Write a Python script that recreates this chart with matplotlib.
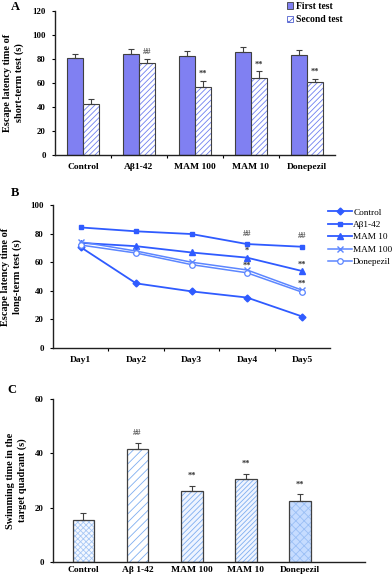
import matplotlib
matplotlib.use("Agg")
import matplotlib.pyplot as plt
import numpy as np
from matplotlib.patches import Patch

plt.rcParams['font.family'] = ['Liberation Serif', 'DejaVu Serif']
plt.rcParams['font.weight'] = 'bold'
plt.rcParams['hatch.linewidth'] = 0.6

# ---------------- data ----------------
groups = ["Control", "Aβ1-42", "MAM 100", "MAM 10", "Donepezil"]
groups_c = ["Control", "Aβ 1-42", "MAM 100", "MAM 10", "Donepezil"]

first_test = [80.8, 84.0, 82.2, 86.0, 83.4]
first_err = [3.6, 4.2, 4.6, 3.8, 3.9]
second_test = [42.3, 77.0, 57.0, 63.8, 60.8]
second_err = [4.2, 3.3, 4.8, 5.8, 2.6]
sig_a = ["", "##", "**", "**", "**"]

days = ["Day1", "Day2", "Day3", "Day4", "Day5"]
b_control = [70.5, 45.2, 39.6, 35.3, 22.0]
b_abeta = [84.3, 81.6, 79.7, 72.7, 70.8]
b_mam10 = [73.5, 71.2, 66.8, 63.2, 53.8]
b_mam100 = [74.2, 67.8, 60.0, 54.6, 40.4]
b_donep = [72.0, 66.4, 58.3, 52.6, 39.0]
sig_b = [(3, 79.5, "##"), (4, 78.0, "##"), (3, 68.0, "*"), (3, 57.5, "**"),
         (4, 58.5, "**"), (4, 45.2, "**")]

c_values = [15.5, 41.5, 26.0, 30.5, 22.6]
c_err = [2.4, 2.2, 1.9, 1.9, 2.3]
sig_c = ["", "##", "**", "**", "**"]

# ---------------- figure ----------------
fig = plt.figure(figsize=(3.92, 5.77), dpi=100)
W, H = 392, 577

def axrect(l, t, r, b):
    return [l / W, 1 - b / H, (r - l) / W, (b - t) / H]

edge = "#404040"
tick_fs = 6.3
lab_fs = 7.4
sig_fs = 6.0

def style(ax):
    for s in ["top", "right"]:
        ax.spines[s].set_visible(False)
    for s in ["left", "bottom"]:
        ax.spines[s].set_linewidth(1.0)
        ax.spines[s].set_color("#202020")
    ax.tick_params(axis="y", direction="out", length=2.5, width=0.8, labelsize=tick_fs, pad=4)
    ax.tick_params(axis="x", direction="out", length=0, labelsize=6.8, pad=6)
    for lbl in ax.get_xticklabels() + ax.get_yticklabels():
        lbl.set_fontweight("bold")

# ---------- Panel A ----------
axA = fig.add_axes(axrect(55, 11, 335, 155))
x = np.arange(len(groups))
bw = 0.29
c1 = "#8080F2"
axA.bar(x - bw / 2, first_test, bw, color=c1, edgecolor=edge, linewidth=0.8, zorder=2)
axA.bar(x + bw / 2, second_test, bw, color="white", edgecolor="#6F7FF0", hatch="//////",
        linewidth=0, zorder=2)
axA.bar(x + bw / 2, second_test, bw, color="none", edgecolor=edge, linewidth=0.8, zorder=3)
axA.errorbar(x - bw / 2, first_test, yerr=[np.zeros(5), first_err], fmt="none",
             ecolor=edge, elinewidth=0.8, capsize=2.5, capthick=0.8, zorder=4)
axA.errorbar(x + bw / 2, second_test, yerr=[np.zeros(5), second_err], fmt="none",
             ecolor=edge, elinewidth=0.8, capsize=2.5, capthick=0.8, zorder=4)
for i, s in enumerate(sig_a):
    if s:
        axA.text(x[i] + bw / 2, second_test[i] + second_err[i] + 2.5, s, ha="center",
                 va="bottom", fontsize=sig_fs, color="#555555" if s == "##" else "#333333",
                 fontweight="bold")
axA.set_xlim(-0.5, 4.5)
axA.set_ylim(0, 120)
axA.set_yticks(range(0, 121, 20))
axA.set_xticks(x)
axA.set_xticklabels(groups)
axA.set_xticks(np.arange(0.5, 4.5, 1), minor=True)
axA.tick_params(axis="x", which="minor", length=2.5, width=0.8, direction="out")
style(axA)
axA.set_ylabel("Escape latency time of\nshort-term test (s)", fontsize=lab_fs,
               fontweight="bold", labelpad=6, linespacing=1.3)
legA = fig.legend(handles=[Patch(facecolor=c1, edgecolor=edge, linewidth=0.6),
                           Patch(facecolor="white", edgecolor="#5060D0", hatch="xxx", linewidth=0.6)],
                  labels=["First test", "Second test"], loc="upper left",
                  bbox_to_anchor=(285 / W, 1 - 0 / H), frameon=False, fontsize=6.9,
                  handlelength=0.6, handleheight=0.6, handletextpad=0.3, labelspacing=0.45,
                  borderaxespad=0, borderpad=0.2)
for t in legA.get_texts():
    t.set_fontweight("bold")
fig.text(15 / W, 1 - 7 / H, "A", fontsize=9, fontweight="bold", ha="center", va="center")

# ---------- Panel B ----------
axB = fig.add_axes(axrect(53, 205, 330, 348))
xd = np.arange(len(days))
lc = "#2F5BFF"
lc2 = "#5C86FF"
axB.plot(xd, b_control, color=lc, marker="D", markersize=3.5, lw=1.3, label="Control", zorder=3)
axB.plot(xd, b_abeta, color=lc, marker="s", markersize=3.5, lw=1.3, label="Aβ1-42", zorder=3)
axB.plot(xd, b_mam10, color=lc, marker="^", markersize=5, lw=1.3, label="MAM 10", zorder=3)
axB.plot(xd, b_mam100, color=lc2, marker="x", markersize=5, mew=1.0, lw=1.1, label="MAM 100", zorder=3)
axB.plot(xd, b_donep, color=lc2, marker="o", markersize=4, mfc="white", mew=0.9, lw=1.1,
         label="Donepezil", zorder=3)
for (i, yv, s) in sig_b:
    axB.text(xd[i], yv, s, ha="center", va="center", fontsize=sig_fs, fontweight="bold",
             color="#555555" if s == "##" else "#333333")
axB.set_xlim(-0.5, 4.5)
axB.set_ylim(0, 100)
axB.set_yticks(range(0, 101, 20))
axB.set_xticks(xd)
axB.set_xticklabels(days)
axB.set_xticks(np.arange(0.5, 4.5, 1), minor=True)
axB.tick_params(axis="x", which="minor", length=2.5, width=0.8, direction="out")
style(axB)
axB.set_ylabel("Escape latency time of\nlong-term test (s)", fontsize=lab_fs,
               fontweight="bold", labelpad=6, linespacing=1.3)
hB, lB = axB.get_legend_handles_labels()
legB = fig.legend(hB, lB, loc="upper left", bbox_to_anchor=(328 / W, 1 - 208 / H),
                  frameon=False, fontsize=6.7, handlelength=2.6, handletextpad=0.1,
                  labelspacing=0.42, borderaxespad=0, borderpad=0)
for t in legB.get_texts():
    t.set_fontweight("normal")
fig.text(15 / W, 1 - 193 / H, "B", fontsize=9, fontweight="bold", ha="center", va="center")

# ---------- Panel C ----------
axC = fig.add_axes(axrect(53, 399, 365, 562))
xc = np.arange(len(groups_c))
cw = 0.4
c_faces = ["#F4F8FF", "white", "#EEF4FF", "#EEF4FF", "#C6DCFF"]
c_hatches = ["xxxxxx", "////", "//////", "///////", "xxxx"]
c_hcols = ["#A8C8F5", "#7FAEF0", "#7FAEF0", "#7FAEF0", "#9BBFF5"]
for i in range(len(xc)):
    axC.bar(xc[i], c_values[i], cw, color=c_faces[i], edgecolor=c_hcols[i],
            hatch=c_hatches[i], linewidth=0, zorder=2)
axC.bar(xc, c_values, cw, color="none", edgecolor=edge, linewidth=0.9, zorder=3)
axC.errorbar(xc, c_values, yerr=[np.zeros(5), c_err], fmt="none", ecolor=edge,
             elinewidth=0.8, capsize=2.5, capthick=0.8, zorder=4)
for i, s in enumerate(sig_c):
    if s:
        axC.text(xc[i], c_values[i] + c_err[i] + 2.2, s, ha="center", va="bottom",
                 fontsize=sig_fs, fontweight="bold",
                 color="#555555" if s == "##" else "#333333")
axC.set_xlim(-0.56, 5.2)
axC.set_ylim(0, 60)
axC.set_yticks(range(0, 61, 20))
axC.set_xticks(xc)
axC.set_xticklabels(groups_c)
style(axC)
axC.tick_params(axis="x", pad=3)
axC.set_ylabel("Swimming time in the\ntarget quadrant (s)", fontsize=lab_fs,
               fontweight="bold", labelpad=6, linespacing=1.3)
fig.text(12 / W, 1 - 390 / H, "C", fontsize=9, fontweight="bold", ha="center", va="center")

fig.savefig("out.png", dpi=100)
